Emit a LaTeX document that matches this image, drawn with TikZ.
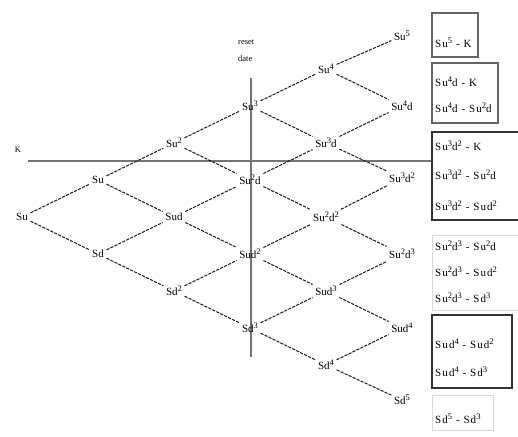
\documentclass[tikz,border=0pt]{standalone}
\usepackage{fontspec}
\setmainfont{Liberation Serif}
\newfontfamily\payfont[LetterSpace=10]{Liberation Serif}
\newcommand{\sps}[1]{\raisebox{0.8ex}{\fontsize{8.5}{9}\selectfont #1}}
\begin{document}
\begin{tikzpicture}[x=1pt,y=-1pt,
  lab/.style={font=\fontsize{11}{12}\selectfont, inner sep=2.5pt},
  edge/.style={draw=black!90, line width=1pt, dash pattern=on 3.2pt off 1.2pt},
  axis/.style={draw=black!55, line width=1.2pt},
  pay/.style={font=\payfont\fontsize{11}{12}\selectfont, anchor=west, inner sep=0pt},
  note/.style={font=\fontsize{8.5}{10}\selectfont, anchor=west, inner sep=0pt},
  boxA/.style={draw=black!60, line width=1.2pt},
  boxB/.style={draw=black!80, line width=1.8pt},
  boxC/.style={draw=black!15, line width=0.8pt}]
\useasboundingbox (0,0) rectangle (518,436);
% axes
\coordinate (hL) at (28,161);
\coordinate (hR) at (432,161);
\coordinate (vT) at (251,78);
\coordinate (vB) at (251,357);
\draw[axis] (hL) -- (hR);
\draw[axis] (vT) -- (vB);
\node[note, anchor=center] (K) at (18,150) {K};
\node[note] (reset) at (238,42) {reset};
\node[note] (date) at (238,59) {date};
% tree nodes: x = 22 + 76k, y = 217 + 37(2j-k)
\node[lab] (n00) at (22,217) {Su};
\node[lab] (n10) at (98,180) {Su};
\node[lab] (n11) at (98,254) {Sd};
\node[lab] (n20) at (174,143) {Su\sps{2}};
\node[lab] (n21) at (174,217) {Sud};
\node[lab] (n22) at (174,291) {Sd\sps{2}};
\node[lab] (n30) at (250,106) {Su\sps{3}};
\node[lab] (n31) at (250,180) {Su\sps{2}d};
\node[lab] (n32) at (250,254) {Sud\sps{2}};
\node[lab] (n33) at (250,328) {Sd\sps{3}};
\node[lab] (n40) at (326,69) {Su\sps{4}};
\node[lab] (n41) at (326,143) {Su\sps{3}d};
\node[lab] (n42) at (326,217) {Su\sps{2}d\sps{2}};
\node[lab] (n43) at (326,291) {Sud\sps{3}};
\node[lab] (n44) at (326,365) {Sd\sps{4}};
\node[lab] (n50) at (402,36) {Su\sps{5}};
\node[lab] (n51) at (402,106) {Su\sps{4}d};
\node[lab] (n52) at (402,178) {Su\sps{3}d\sps{2}};
\node[lab] (n53) at (402,254) {Su\sps{2}d\sps{3}};
\node[lab] (n54) at (402,328) {Sud\sps{4}};
\node[lab] (n55) at (402,400) {Sd\sps{5}};
% edges
\foreach \k in {0,...,4} {
  \foreach \j in {0,...,\k} {
    \pgfmathtruncatemacro\kk{\k+1}
    \pgfmathtruncatemacro\jj{\j+1}
    \draw[edge] (n\k\j) -- (n\kk\j);
    \draw[edge] (n\k\j) -- (n\kk\jj);
  }
}
% payoff boxes
\draw[boxA] (432,13) rectangle (478,57);
\node[pay] (p1) at (435,43) {Su\sps{5} - K};
\draw[boxA] (432,63) rectangle (498,123);
\node[pay] (p2a) at (435,82) {Su\sps{4}d - K};
\node[pay] (p2b) at (435,108) {Su\sps{4}d - Su\sps{2}d};
\draw[boxB] (432,132) rectangle (522,220);
\node[pay] (p3a) at (435,146) {Su\sps{3}d\sps{2} - K};
\node[pay] (p3b) at (435,175) {Su\sps{3}d\sps{2} - Su\sps{2}d};
\node[pay] (p3c) at (435,206) {Su\sps{3}d\sps{2} - Sud\sps{2}};
\draw[boxC] (432,235) rectangle (522,310);
\node[pay] (p4a) at (435,246) {Su\sps{2}d\sps{3} - Su\sps{2}d};
\node[pay] (p4b) at (435,272) {Su\sps{2}d\sps{3} - Sud\sps{2}};
\node[pay] (p4c) at (435,298) {Su\sps{2}d\sps{3} - Sd\sps{3}};
\draw[boxB] (432,315) rectangle (512,388);
\node[pay] (p5a) at (435,344) {Sud\sps{4} - Sud\sps{2}};
\node[pay] (p5b) at (435,372) {Sud\sps{4} - Sd\sps{3}};
\draw[boxC] (432,395) rectangle (493,430);
\node[pay] (p6) at (435,419) {Sd\sps{5} - Sd\sps{3}};
\end{tikzpicture}
\end{document}
